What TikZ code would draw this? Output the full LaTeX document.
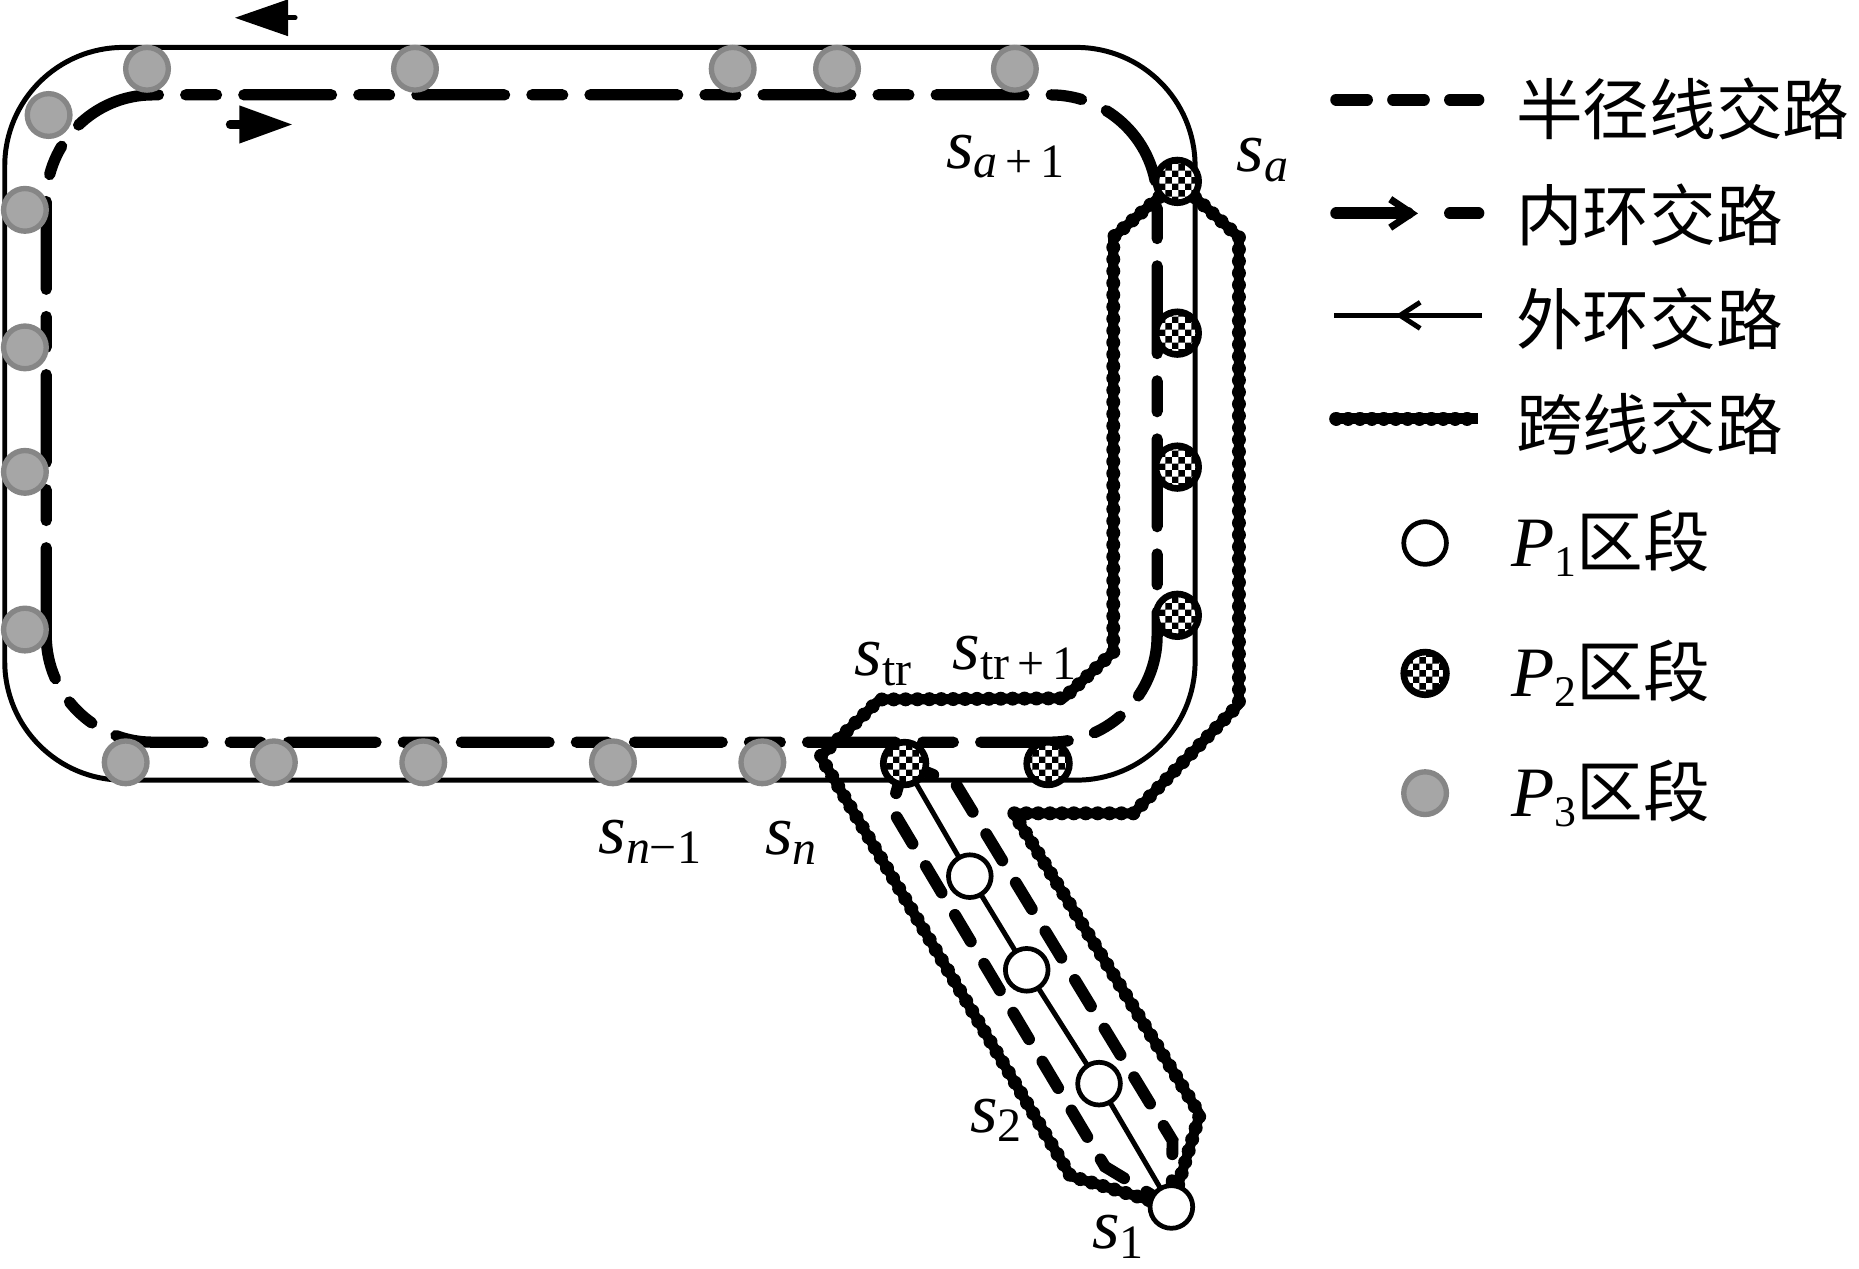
\documentclass[tikz,border=0pt]{standalone}
\usepackage{fontspec}
\setmainfont{Liberation Serif}
\newfontfamily\cjk{Noto Sans CJK SC}
\usetikzlibrary{arrows.meta,patterns}
\definecolor{stationgray}{RGB}{166,166,166}
\definecolor{rimgray}{RGB}{134,134,134}
\pgfdeclarepatternformonly{finecheck}{\pgfqpoint{0pt}{0pt}}{\pgfqpoint{3.2pt}{3.2pt}}{\pgfqpoint{3.2pt}{3.2pt}}{%
  \pgfpathrectangle{\pgfqpoint{0pt}{0pt}}{\pgfqpoint{1.6pt}{1.6pt}}%
  \pgfpathrectangle{\pgfqpoint{1.6pt}{1.6pt}}{\pgfqpoint{1.6pt}{1.6pt}}%
  \pgfusepath{fill}}
\tikzset{
  outerloop/.style={black,line width=0.042cm},
  innerloop/.style={black,line width=0.095cm,line cap=round,
                    dash pattern=on 0.74cm off 0.23cm on 0.26cm off 0.23cm},
  radial/.style={black,line width=0.1cm,line cap=round,dash pattern=on 0.26cm off 0.22cm},
  crossline/.style={black,line width=0.085cm,line join=round,
                    postaction={draw,line width=0.118cm,line cap=round,dash pattern=on 0.01pt off 0.1cm}},
  pone/.style={circle,draw=black,fill=white,line width=0.04cm,minimum size=0.36cm,inner sep=0pt},
  ptwo/.style={circle,draw=black,line width=0.056cm,minimum size=0.36cm,inner sep=0pt,
               preaction={fill=white},pattern=finecheck},
  pthree/.style={circle,draw=rimgray,fill=stationgray,line width=0.045cm,minimum size=0.36cm,inner sep=0pt},
  lab/.style={font=\fontsize{17}{20}\selectfont,inner sep=0pt},
  legtext/.style={font=\cjk\fontsize{16}{19}\selectfont,anchor=west,inner sep=0pt},
}
\newcommand{\stn}[1]{\textit{s}\raisebox{-2.3pt}{\fontsize{11.5}{13}\selectfont #1}}
\newcommand{\legp}[1]{{\rmfamily\fontsize{17}{20}\selectfont\textit{P}\raisebox{-2.4pt}{\fontsize{10.5}{12}\selectfont #1}}}

\begin{document}
\begin{tikzpicture}[x=1cm,y=1cm]
  \useasboundingbox (0,0) rectangle (15.68,10.70);

  % stations
  \foreach \n/\xx/\yy in {1/1.24/10.12,2/3.50/10.12,3/6.18/10.12,4/7.06/10.12,5/8.56/10.12,
                          6/0.41/9.73,7/0.21/8.93,8/0.21/7.77,9/0.21/6.72,10/0.21/5.39,
                          11/1.06/4.27,12/2.31/4.27,13/3.57/4.27,14/5.17/4.27,15/6.43/4.27}
    \coordinate (g\n) at (\xx,\yy);
  \coordinate (sa)   at (9.93,9.17);
  \coordinate (r1)   at (9.93,7.89);
  \coordinate (r2)   at (9.93,6.76);
  \coordinate (r3)   at (9.93,5.51);
  \coordinate (str)  at (7.63,4.26);
  \coordinate (str1) at (8.84,4.26);
  \coordinate (b1)   at (8.18,3.31);
  \coordinate (b2)   at (8.66,2.52);
  \coordinate (b3)   at (9.27,1.56);
  \coordinate (s1)   at (9.88,0.52);

  % loops
  \draw[outerloop,rounded corners=1cm] (0.04,4.12) rectangle (10.08,10.30);
  \draw[innerloop,rounded corners=0.9cm] (0.39,4.44) rectangle (9.76,9.90);

  % cross-line route
  \draw[crossline] (s1) -- (9.03,0.78) -- (6.92,4.32) -- (7.42,4.80) -- (8.97,4.81)
    -- (9.39,5.20) -- (9.39,8.70) -- (sa) -- (10.45,8.70) -- (10.45,4.76)
    -- (9.56,3.84) -- (8.55,3.84) -- (10.12,1.30) -- cycle;

  % branch
  \draw[outerloop] (str) -- (b1) -- (b2) -- (b3) -- (s1);
  \draw[radial] (str) -- (7.52,3.88) -- (9.32,0.86) -- (s1);
  \draw[radial] (str) -- (8.06,4.09) -- (9.89,1.08) -- (s1);

  % direction arrows
  \draw[line width=0.04cm,line cap=round,-{Triangle[length=0.45cm,width=0.30cm]}]
    (2.49,10.55) -- (1.98,10.55);
  \draw[line width=0.07cm,line cap=round,-{Triangle[length=0.45cm,width=0.30cm]}]
    (1.94,9.65) -- (2.47,9.65);

  \foreach \n in {1,...,15}
    \node[pthree] (G\n) at (g\n) {};
  \foreach \c in {sa,r1,r2,r3,str,str1}
    \node[ptwo] (N\c) at (\c) {};
  \foreach \c in {b1,b2,b3,s1}
    \node[pone] (N\c) at (\c) {};

  % labels
  \node[lab] (lsa1)  at (8.48,9.38) {\stn{\textit{a}\,+\,1}};
  \node[lab] (lsa)   at (10.65,9.35) {\stn{\textit{a}}};
  \node[lab] (lstr)  at (7.45,5.10) {\stn{tr}};
  \node[lab] (lstr1) at (8.56,5.15) {\stn{tr\,+\,1}};
  \node[lab] (lsn1)  at (5.48,3.60) {\stn{\textit{n}−1}};
  \node[lab] (lsn)   at (6.67,3.59) {\stn{\textit{n}}};
  \node[lab] (ls2)   at (8.40,1.25) {\stn{2}};
  \node[lab] (ls1)   at (9.43,0.27) {\stn{1}};

  % legend
  \draw[radial] (11.27,9.86) -- (12.47,9.86);
  \draw[line width=0.1cm,line cap=round,
        -{Straight Barb[length=0.18cm,width=0.24cm,line width=0.06cm]}]
    (11.27,8.90) -- (11.96,8.90);
  \draw[line width=0.1cm,line cap=round] (12.23,8.90) -- (12.47,8.90);
  \draw[outerloop] (12.50,8.04) -- (11.25,8.04);
  \draw[outerloop,-{Straight Barb[length=0.17cm,width=0.22cm]}] (12.00,8.04) -- (11.77,8.04);
  \draw[crossline] (11.27,7.17) -- (12.47,7.17);
  \node[legtext] (t1) at (12.78,9.78) {半径线交路};
  \node[legtext] (t2) at (12.78,8.89) {内环交路};
  \node[legtext] (t3) at (12.78,8.01) {外环交路};
  \node[legtext] (t4) at (12.78,7.12) {跨线交路};
  \node[pone]  (k1) at (12.02,6.12) {};
  \node[ptwo]  (k2) at (12.02,5.02) {};
  \node[pthree](k3) at (12.02,4.01) {};
  \node[legtext] (t5) at (12.74,6.12) {\legp{1}区段};
  \node[legtext] (t6) at (12.74,5.02) {\legp{2}区段};
  \node[legtext] (t7) at (12.74,4.01) {\legp{3}区段};
\end{tikzpicture}
\end{document}
